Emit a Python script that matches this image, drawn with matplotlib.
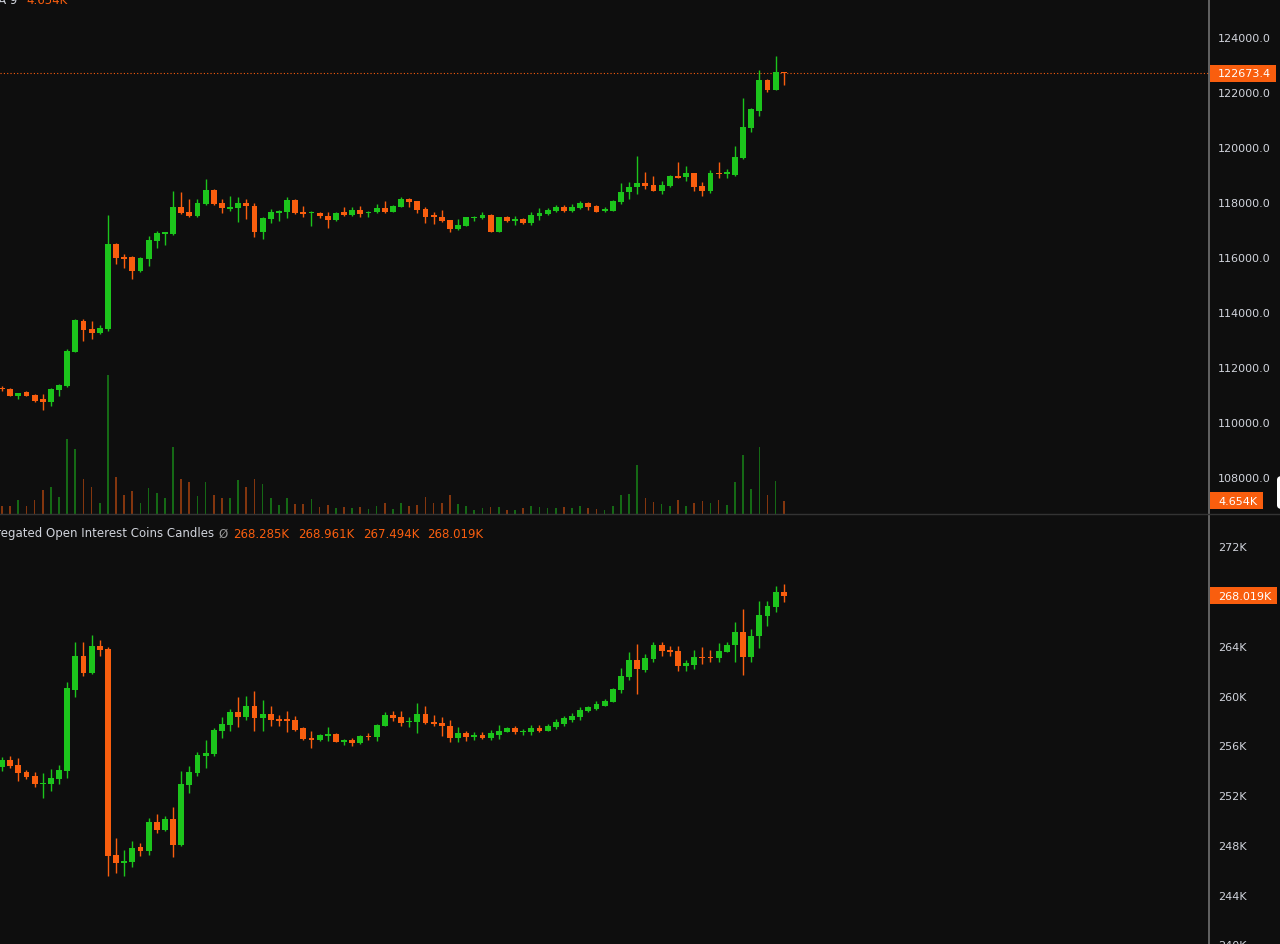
import numpy as np
import matplotlib
matplotlib.use("Agg")
import matplotlib.pyplot as plt
from matplotlib.patches import Rectangle, FancyBboxPatch
from matplotlib.lines import Line2D

# ---- price candles (top pane) ----
o_top = [111240, 111200, 110960, 111080, 110980, 110840, 110720, 111170, 111320, 112560,
         113680, 113380, 113230, 113380, 116470, 116010, 115990, 115500, 115930, 116590,
         116850, 116840, 117820, 117630, 117480, 117930, 118450, 117960, 117750, 117790,
         117960, 117870, 116900, 117380, 117600, 117650, 118070, 117630, 117590, 117590,
         117500, 117350, 117650, 117530, 117710, 117590, 117630, 117780, 117650, 117830,
         118110, 118030, 117750, 117500, 117470, 117350, 117020, 117140, 117410, 117410,
         117530, 116920, 117440, 117320, 117380, 117240, 117480, 117550, 117670, 117830,
         117670, 117780, 117960, 117870, 117660, 117680, 117990, 118350, 118530, 118690,
         118620, 118410, 118590, 118930, 118920, 119040, 118570, 118410, 119050, 119020,
         118980, 119600, 120690, 121320, 122450, 122080, 122720]
h_top = [111310, 111240, 111070, 111130, 111000, 111020, 111240, 111380, 112640, 113740,
         113730, 113670, 113540, 117530, 116510, 116110, 116040, 116000, 116750, 116930,
         116910, 118390, 118350, 118110, 118110, 118840, 118470, 118110, 118230, 118170,
         118110, 117960, 117450, 117750, 117710, 118170, 118110, 117870, 117670, 117650,
         117630, 117640, 117810, 117810, 117870, 117680, 117930, 118030, 117890, 118170,
         118130, 118050, 117810, 117650, 117720, 117360, 117380, 117470, 117500, 117630,
         117550, 117470, 117500, 117480, 117410, 117630, 117770, 117770, 117890, 117890,
         117930, 118050, 117990, 117890, 117810, 118070, 118680, 118720, 119680, 119080,
         118930, 118770, 118980, 119470, 119320, 119070, 118740, 119170, 119470, 119200,
         120030, 121770, 121420, 122810, 122470, 123320, 122740]
l_top = [111130, 110930, 110840, 110930, 110730, 110450, 110590, 110960, 111270, 112530,
         112960, 113020, 113200, 113310, 115750, 115590, 115200, 115470, 115660, 116330,
         116440, 116800, 117560, 117450, 117450, 117890, 117890, 117590, 117680, 117280,
         117380, 116720, 116650, 117240, 117320, 117410, 117560, 117440, 117140, 117410,
         117040, 117310, 117500, 117500, 117440, 117440, 117600, 117590, 117620, 117800,
         117830, 117590, 117240, 117200, 117260, 116900, 116990, 117120, 117320, 117380,
         116900, 116900, 117260, 117160, 117210, 117160, 117360, 117530, 117650, 117630,
         117650, 117760, 117700, 117630, 117640, 117660, 117930, 118110, 118290, 118470,
         118390, 118290, 118550, 118860, 118770, 118410, 118210, 118320, 118860, 118860,
         118960, 119560, 120530, 121120, 121990, 122060, 122270]
c_top = [111200, 110960, 111050, 110960, 110770, 110740, 111200, 111360, 112590, 113710,
         113360, 113230, 113420, 116470, 115950, 115930, 115500, 115950, 116620, 116860,
         116900, 117820, 117590, 117480, 117960, 118450, 117930, 117770, 117810, 117960,
         117840, 116900, 117410, 117630, 117680, 118070, 117590, 117560, 117630, 117480,
         117360, 117610, 117530, 117720, 117560, 117650, 117780, 117630, 117870, 118110,
         118010, 117720, 117440, 117470, 117320, 117020, 117160, 117440, 117440, 117530,
         116920, 117440, 117300, 117380, 117240, 117530, 117590, 117720, 117830, 117670,
         117830, 117960, 117810, 117650, 117750, 118050, 118380, 118560, 118690, 118590,
         118410, 118620, 118930, 118880, 119040, 118560, 118410, 119040, 119010, 119080,
         119650, 120740, 121380, 122450, 122080, 122720, 122673.4]
# volume, thousands
vol_top = [2.9, 2.7, 4.9, 2.7, 4.9, 8.4, 9.6, 6.1, 26.3, 22.8,
           12.3, 9.3, 3.9, 48.7, 13.1, 6.7, 8.2, 3.9, 9.0, 7.4,
           5.5, 23.6, 12.3, 11.1, 6.2, 11.1, 6.7, 5.6, 5.5, 11.9,
           9.3, 12.3, 10.5, 5.6, 3.2, 5.6, 3.5, 3.5, 5.3, 2.6,
           3.2, 2.1, 2.3, 2.1, 2.3, 1.8, 2.9, 3.9, 1.8, 3.9,
           2.7, 3.2, 5.8, 3.9, 3.9, 6.7, 3.5, 2.9, 1.5, 2.0,
           2.3, 2.3, 1.5, 1.4, 2.0, 2.9, 2.3, 2.0, 2.0, 2.3,
           2.0, 2.7, 2.0, 1.8, 1.4, 2.9, 6.7, 7.0, 17.2, 5.5,
           4.1, 3.5, 2.9, 5.0, 2.9, 3.9, 4.7, 3.9, 5.0, 3.3,
           11.1, 20.7, 8.8, 23.3, 6.7, 11.7, 4.654]

# ---- aggregated open interest candles (bottom pane), thousands of coins ----
o_oi = [254.25, 254.83, 254.45, 253.84, 253.52, 252.91, 252.91, 253.31, 253.97, 260.47,
        263.15, 261.81, 263.95, 263.74, 247.21, 246.57, 246.62, 247.83, 247.51, 249.88,
        249.24, 250.10, 248.01, 252.85, 253.76, 255.18, 255.31, 257.13, 257.66, 258.66,
        258.31, 259.19, 258.20, 258.52, 258.12, 258.06, 258.06, 257.37, 256.60, 256.44,
        256.78, 256.92, 256.30, 256.46, 256.17, 256.78, 256.70, 257.58, 258.47, 258.31,
        257.86, 257.86, 258.52, 257.90, 257.78, 257.58, 256.60, 257.00, 256.65, 256.86,
        256.57, 256.86, 257.10, 257.40, 257.05, 257.05, 257.37, 257.18, 257.45, 257.72,
        258.04, 258.31, 258.74, 258.92, 259.19, 259.51, 260.45, 261.47, 262.88, 262.08,
        262.93, 264.08, 263.68, 263.55, 262.35, 262.45, 263.12, 263.12, 263.01, 263.52,
        264.06, 265.12, 263.12, 264.76, 266.41, 267.08, 268.285]
h_oi = [255.05, 255.13, 254.97, 254.05, 253.84, 253.79, 254.11, 254.45, 261.06, 264.32,
        264.27, 264.88, 264.48, 263.87, 248.57, 247.61, 248.36, 248.17, 250.15, 250.50,
        250.36, 251.04, 253.92, 254.37, 255.45, 256.46, 257.37, 258.28, 258.92, 259.91,
        259.97, 260.34, 259.67, 259.19, 258.44, 258.79, 258.34, 257.44, 257.18, 256.92,
        257.45, 256.96, 256.52, 256.60, 256.80, 257.00, 257.72, 258.66, 258.74, 258.74,
        258.31, 259.40, 259.19, 258.44, 258.26, 258.04, 257.45, 257.18, 257.05, 257.10,
        257.26, 257.66, 257.45, 257.58, 257.32, 257.66, 257.66, 257.68, 258.12, 258.39,
        258.60, 259.06, 259.19, 259.59, 259.72, 260.61, 262.19, 263.47, 264.14, 263.34,
        264.27, 264.32, 264.00, 264.00, 262.85, 263.68, 263.92, 263.68, 264.22, 264.32,
        265.93, 266.95, 265.34, 267.56, 267.56, 268.77, 268.961]
l_oi = [253.97, 254.17, 253.12, 253.31, 252.64, 251.78, 252.37, 252.91, 253.36, 259.86,
        261.59, 261.73, 263.20, 245.50, 245.77, 245.50, 246.22, 247.10, 247.21, 248.97,
        249.17, 247.02, 247.91, 252.18, 253.57, 254.17, 255.18, 256.60, 257.18, 257.45,
        258.06, 257.18, 257.13, 257.53, 257.58, 257.05, 257.18, 256.46, 255.77, 256.38,
        256.38, 256.25, 256.06, 255.98, 256.11, 256.46, 256.38, 257.52, 257.94, 257.58,
        257.45, 257.00, 257.72, 257.53, 256.78, 256.25, 256.30, 256.38, 256.46, 256.52,
        256.46, 256.52, 257.05, 256.92, 256.86, 256.86, 257.05, 257.12, 257.32, 257.58,
        257.86, 258.04, 258.66, 258.84, 259.13, 259.46, 260.18, 261.25, 260.13, 261.87,
        262.67, 263.15, 263.15, 261.99, 261.99, 262.13, 262.53, 262.67, 262.67, 263.46,
        262.67, 261.65, 262.72, 263.79, 265.56, 266.73, 267.494]
c_oi = [254.83, 254.37, 253.79, 253.44, 252.91, 252.99, 253.39, 254.05, 260.58, 263.20,
        261.79, 263.95, 263.66, 247.10, 246.57, 246.70, 247.77, 247.51, 249.88, 249.24,
        250.10, 248.01, 252.91, 253.84, 255.23, 255.37, 257.20, 257.74, 258.66, 258.31,
        259.19, 258.20, 258.52, 258.06, 257.98, 257.98, 257.26, 256.52, 256.46, 256.86,
        256.92, 256.30, 256.46, 256.17, 256.73, 256.65, 257.66, 258.47, 258.20, 257.80,
        257.98, 258.52, 257.80, 257.72, 257.58, 256.60, 257.00, 256.65, 256.86, 256.57,
        257.00, 257.18, 257.40, 257.05, 257.18, 257.40, 257.18, 257.58, 257.86, 258.18,
        258.39, 258.84, 259.06, 259.32, 259.59, 260.53, 261.55, 262.88, 262.13, 263.01,
        264.08, 263.55, 263.52, 262.35, 262.59, 263.12, 263.01, 263.01, 263.60, 264.08,
        265.12, 263.12, 264.76, 266.46, 267.16, 268.29, 268.019]

# axis ticks (268K sits under the last-value tag in the original, so it is left out)
price_ticks = [108000, 110000, 112000, 114000, 116000, 118000, 120000, 122000, 124000]
oi_ticks = [244, 248, 252, 256, 260, 264, 272]

BG = "#0e0e0e"
UP = "#1cc41c"
DN = "#f95e0e"
TXT = "#d1d4dc"
W, H = 1280, 945

fig = plt.figure(figsize=(W / 100, H / 100), dpi=100, facecolor=BG)


def px_rect(left, top, width, height):
    return [left / W, 1 - (top + height) / H, width / W, height / H]


ax1 = fig.add_axes(px_rect(0, 0, 1208.5, 515))
ax2 = fig.add_axes(px_rect(0, 515.5, 1208.5, 429.5))
axv = ax1.twinx()
axv.set_zorder(ax1.get_zorder() - 1)
for a in (ax1, ax2, axv):
    a.patch.set_visible(False)
    for s in a.spines.values():
        s.set_visible(False)
for a in (ax1, ax2):
    a.spines["right"].set_visible(True)
    a.spines["right"].set_color("#7a7a7a")
    a.spines["right"].set_linewidth(1.1)
    a.yaxis.tick_right()
    a.tick_params(axis="y", length=0, pad=6.8, labelsize=8, labelcolor=TXT)
    a.tick_params(axis="x", bottom=False, labelbottom=False)
    a.set_xlim(-0.246, 148.16)
axv.set_yticks([])


def draw_candles(ax, o, h, l, c, min_body):
    o, h, l, c = map(np.asarray, (o, h, l, c))
    x = np.arange(len(o))
    col = np.where(c >= o, UP, DN)
    ax.vlines(x, l, h, colors=col, lw=1.0, zorder=3)
    ax.bar(x, np.maximum(np.abs(c - o), min_body), bottom=np.minimum(o, c),
           width=0.72, color=col, lw=0, zorder=4)
    return x, col


x, col_top = draw_candles(ax1, o_top, h_top, l_top, c_top, 45)
axv.bar(x, vol_top, width=0.2, color=col_top, alpha=0.5, lw=0)
draw_candles(ax2, o_oi, h_oi, l_oi, c_oi, 0.1)

ax1.set_ylim(106654.4, 125381.8)
axv.set_ylim(0, 515 * 0.35)
ax2.set_ylim(240.068, 274.527)
ax1.set_yticks(price_ticks)
ax1.yaxis.set_major_formatter(lambda v, p: f"{v:.1f}")
ax2.set_yticks(oi_ticks)
ax2.yaxis.set_major_formatter(lambda v, p: f"{v:.0f}K")

ax1.axhline(c_top[-1], color=DN, lw=0.8, ls=(0, (1, 2)), zorder=2)

# pane separator
fig.add_artist(Line2D([0, 1], [1 - 515 / H] * 2, transform=fig.transFigure,
                      color="#333333", lw=1))


def tag(ax, value, text, width_px):
    yd = ax.transData.transform((0, value))[1]
    fig.add_artist(Rectangle((1209.5 / W, (yd - 8.5) / H), width_px / W, 17 / H,
                             transform=fig.transFigure, fc=DN, ec="none", zorder=5))
    fig.text(1218 / W, yd / H, text, color="white", fontsize=8, va="center",
             ha="left", zorder=6)


tag(ax1, c_top[-1], f"{c_top[-1]:.1f}", 66)
tag(axv, vol_top[-1], f"{vol_top[-1]:.3f}K", 53)
tag(ax2, c_oi[-1], f"{c_oi[-1]:.3f}K", 67)

# half-visible bottom tick
yb = ax2.transData.transform((0, 240))[1]
fig.text(1218 / W, yb / H, "240K", color=TXT, fontsize=8, va="center", ha="left")

# scroll handle at right edge
fig.add_artist(FancyBboxPatch((1277 / W, 1 - 510 / H), 12 / W, 33 / H,
                              boxstyle="round,pad=0,rounding_size=0.004",
                              transform=fig.transFigure, fc="white", ec="none"))

# legends
fig.text(17 / W, 1 - 0.5 / H, "Volume SMA 9", color=TXT, fontsize=8.5,
         ha="right", va="center")
fig.text(26 / W, 1 - 0.5 / H, f"{vol_top[-1]:.3f}K", color=DN, fontsize=8.5,
         ha="left", va="center")
fig.text(214 / W, 1 - 534 / H, "Aggregated Open Interest Coins Candles", color=TXT,
         fontsize=8.5, ha="right", va="center")
fig.text(218 / W, 1 - 534 / H, "\u00d8", color="#9a9a9a", fontsize=8.5,
         ha="left", va="center")
for xp, v in zip([233, 298, 363, 427], [o_oi[-1], h_oi[-1], l_oi[-1], c_oi[-1]]):
    fig.text(xp / W, 1 - 534 / H, f"{v:.3f}K", color=DN, fontsize=8.5,
             ha="left", va="center")

fig.savefig("out.png", dpi=100, facecolor=BG)
